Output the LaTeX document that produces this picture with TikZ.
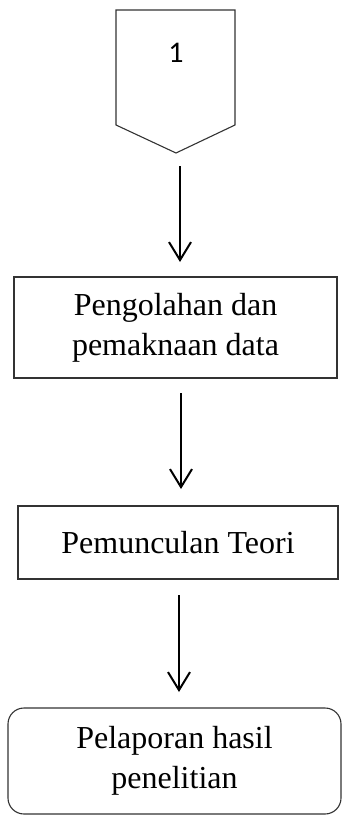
\documentclass[tikz,border=0pt]{standalone}
\usepackage{fontspec}
\setmainfont{Liberation Serif}
\newfontfamily\numfont{Carlito}
\usetikzlibrary{arrows.meta}
\begin{document}
\begin{tikzpicture}[x=1pt,y=-1pt,
  boxline/.style={draw=black!80,line width=1.1pt},
  procbox/.style={boxline,font=\fontsize{32}{40}\selectfont,align=center,inner sep=0pt},
  flow/.style={line width=2.2pt,-{Straight Barb[length=18pt,width=22pt,line width=2pt]}}]
\useasboundingbox (0,0) rectangle (341,816);
% off-page connector
\draw[boxline] (116,10) -- (235,10) -- (235,125) -- (176,153) -- (116,125) -- cycle;
\node[font=\numfont\fontsize{30}{34}\selectfont] (one) at (176,53) {1};
% boxes
\node[procbox,minimum width=323pt,minimum height=101pt] (b1) at (175.5,327.5) {Pengolahan dan\\pemaknaan data};
\node[procbox,minimum width=320pt,minimum height=73pt] (b2) at (178,542.5) {Pemunculan Teori};
\node[procbox,rounded corners=16pt,minimum width=333pt,minimum height=106pt] (b3) at (174.5,761) {Pelaporan hasil\\penelitian};
% arrow ends
\coordinate (a1s) at (180,166); \coordinate (a1e) at (180,262);
\coordinate (a2s) at (181,393); \coordinate (a2e) at (181,489);
\coordinate (a3s) at (179,595); \coordinate (a3e) at (179,692);
\draw[flow] (a1s) -- (a1e);
\draw[flow] (a2s) -- (a2e);
\draw[flow] (a3s) -- (a3e);
\end{tikzpicture}
\end{document}
